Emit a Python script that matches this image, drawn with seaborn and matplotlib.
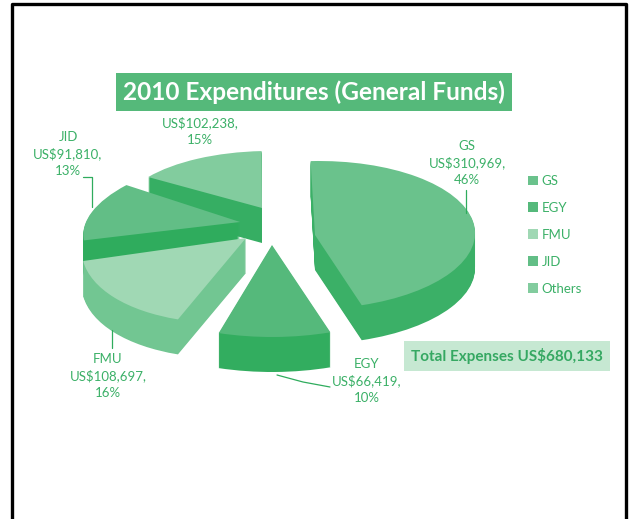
import matplotlib.pyplot as plt
from matplotlib.transforms import Affine2D
import seaborn as sns

categories = ['GS', 'EGY', 'FMU', 'JID', 'Others']
expenses = [310969, 66419, 108697, 91810, 102238]
percents = [46, 10, 16, 13, 15]

top_colors = ['#6ac28c', '#55b97b', '#a0d8b4', '#62be86', '#82cc9e']
side_colors = ['#3bb067', '#32ad5f', '#72c692', '#2fac5d', '#36ae63']
text_green = '#3bb067'

# each slice has its own squashed frame: apex x, apex y, x radius, shear, y radius
frames = [
    (315, 235, 160, 4, 74),
    (272, 245, 185, 0, 92),
    (246, 238, 163, 22, 85),
    (240, 222, 154, 29, 68),
    (262, 208, 140, 7, 57),
]
depth = 35
start_angle = 93


def draw_layer(ax, offset, colors):
    """Draw the whole pie once, shifted down by offset pixels."""
    wedges, _ = ax.pie(expenses, colors=colors, startangle=start_angle,
                       counterclock=False,
                       wedgeprops={'linewidth': 0, 'edgecolor': 'none'})
    for wedge, (x, y, rx, shear, ry) in zip(wedges, frames):
        frame = Affine2D.from_values(rx, 0, shear, -ry, x, y + offset)
        wedge.set_transform(frame + ax.transData)
    return wedges


def main():
    sns.set_theme(style='white')
    plt.rcParams['font.family'] = ['Lato', 'DejaVu Sans']

    fig = plt.figure(figsize=(6.29, 5.19), dpi=100)
    ax = fig.add_axes([0, 0, 1, 1])

    for offset in range(depth, 0, -1):
        draw_layer(ax, offset, side_colors)
    wedges = draw_layer(ax, 0, sns.color_palette(top_colors))

    ax.set_aspect('auto')
    ax.set_xlim(0, 629)
    ax.set_ylim(519, 0)
    ax.axis('off')

    # page border, open at the bottom
    ax.plot([12, 12, 626, 626], [519, 4, 4, 519], color='black', lw=2.4)

    ax.text(314, 92, '2010 Expenditures (General Funds)', color='white',
            fontsize=17.6, fontweight='bold', ha='center', va='center',
            bbox=dict(boxstyle='square,pad=0.3', fc='#55b97a', ec='none'))
    ax.text(507, 356, f'Total Expenses US${sum(expenses):,}', color='#35a862',
            fontsize=11, fontweight='bold', ha='center', va='center',
            bbox=dict(boxstyle='square,pad=0.45', fc='#c6e8d2', ec='none'))

    labels = [f'{c}\nUS${v:,},\n{p}%'
              for c, v, p in zip(categories, expenses, percents)]
    labels[4] = f'US${expenses[4]:,},\n{percents[4]}%'
    label_spots = [(467, 163), (367, 381), (108, 376), (68, 154), (200, 131)]
    for text, (x, y) in zip(labels, label_spots):
        ax.text(x, y, text, color=text_green, fontsize=9.5, ha='center',
                va='center', linespacing=1.42)

    leaders = [
        ([466, 466], [190, 213]),
        ([277, 303, 330], [375, 382, 387]),
        ([112, 112], [330, 348]),
        ([83, 92, 92], [177, 177, 207]),
    ]
    for xs, ys in leaders:
        ax.plot(xs, ys, color='#2fac5d', lw=0.9)

    ax.legend(wedges, categories, loc='upper left',
              bbox_to_anchor=(528, 175), bbox_transform=ax.transData,
              frameon=False, fontsize=9.5, labelcolor=text_green,
              handlelength=0.75, handleheight=0.75, handletextpad=0.3,
              labelspacing=1.13, borderpad=0, borderaxespad=0)

    fig.savefig('out.png', dpi=100)


if __name__ == '__main__':
    main()
